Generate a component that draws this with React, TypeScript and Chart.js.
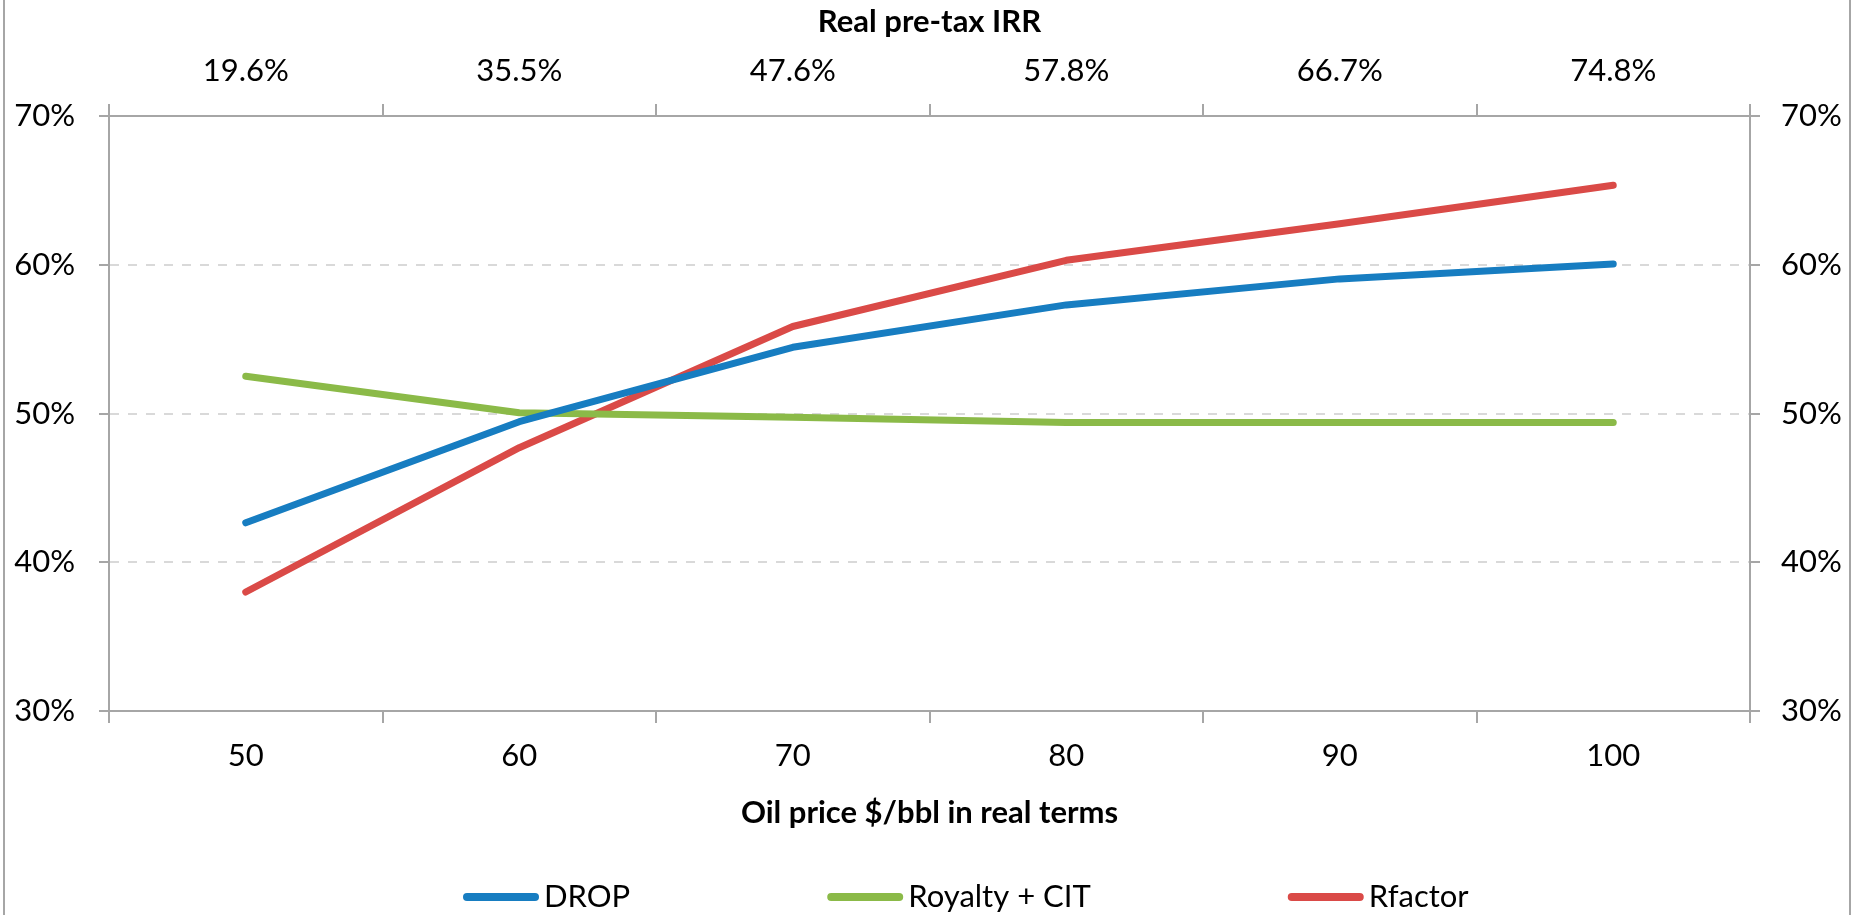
import React, { useEffect, useRef } from 'react';
import { Chart, registerables } from 'chart.js';

Chart.register(...registerables);

// ---- data ----
const categories = ['50', '60', '70', '80', '90', '100'];
const irrLabels = ['19.6%', '35.5%', '47.6%', '57.8%', '66.7%', '74.8%'];
const dropValues = [42.65, 49.45, 54.45, 57.3, 59.05, 60.05];
const royaltyValues = [52.5, 50.05, 49.75, 49.4, 49.4, 49.4];
const rfactorValues = [38.0, 47.7, 55.85, 60.3, 62.75, 65.35];
const seriesNames = ['DROP', 'Royalty + CIT', 'Rfactor'];
const seriesColors = ['#177DC1', '#8BBA48', '#DA4A47'];
const yMin = 30;
const yMax = 70;
const yStep = 10;
const xTitle = 'Oil price $/bbl in real terms';
const x2Title = 'Real pre-tax IRR';

const W = 1858;
const H = 915;
const FONT = 'Lato';
const AXIS = '#A6A6A6';
const GRID = '#D9D9D9';

const frameAndLegend = {
  id: 'frameAndLegend',
  afterDraw(chart: any) {
    const ctx = chart.ctx as CanvasRenderingContext2D;
    ctx.save();
    // outer chart frame (left & right edges visible)
    ctx.strokeStyle = AXIS;
    ctx.lineWidth = 2;
    ctx.beginPath();
    ctx.moveTo(4, 0);
    ctx.lineTo(4, H);
    ctx.moveTo(1850, 0);
    ctx.lineTo(1850, H);
    ctx.stroke();

    // legend
    ctx.font = `31px ${FONT}`;
    ctx.textBaseline = 'middle';
    ctx.textAlign = 'left';
    const lineLen = 76;
    const gap = 5;
    const spacing = 197;
    const y = 897;
    const items = chart.data.datasets.map((ds: any) => ({
      label: ds.label as string,
      color: ds.borderColor as string,
      w: ctx.measureText(ds.label).width,
    }));
    let x = 463;
    items.forEach((it: any) => {
      ctx.strokeStyle = it.color;
      ctx.lineWidth = 8;
      ctx.lineCap = 'round';
      ctx.beginPath();
      ctx.moveTo(x + 4, y);
      ctx.lineTo(x + lineLen - 4, y);
      ctx.stroke();
      ctx.fillStyle = '#000';
      ctx.fillText(it.label, x + lineLen + gap, y);
      x += lineLen + gap + it.w + spacing;
    });
    ctx.restore();
  },
};

export default function App() {
  const ref = useRef<HTMLCanvasElement | null>(null);

  useEffect(() => {
    if (!ref.current) return;
    const tickFont = { family: FONT, size: 31 };
    const titleFont = { family: FONT, size: 31, weight: 'bold' as const };
    const pct = (v: any) => `${v}%`;
    const series = [dropValues, royaltyValues, rfactorValues];

    const chart = new Chart(ref.current, {
      type: 'line',
      data: {
        labels: categories,
        datasets: series.map((vals, i) => ({
          label: seriesNames[i],
          data: vals,
          borderColor: seriesColors[i],
          backgroundColor: seriesColors[i],
          borderWidth: 7,
          pointRadius: 0,
          pointHoverRadius: 0,
          tension: 0,
          borderCapStyle: 'round' as const,
          borderJoinStyle: 'round' as const,
          xAxisID: 'x',
          yAxisID: 'y',
        })),
      },
      plugins: [frameAndLegend],
      options: {
        responsive: false,
        animation: false,
        devicePixelRatio: 1,
        layout: { padding: { left: 0, right: 0, top: 0, bottom: H - 711 - 130 } },
        plugins: {
          legend: { display: false },
          tooltip: { enabled: false },
          title: { display: false },
        },
        scales: {
          x: {
            type: 'category',
            position: 'bottom',
            offset: true,
            grid: {
              offset: true,
              drawOnChartArea: false,
              drawTicks: true,
              tickLength: 12,
              color: AXIS,
              lineWidth: 2,
            },
            border: { display: true, color: AXIS, width: 2 },
            ticks: { font: tickFont, color: '#000', padding: 14, maxRotation: 0, autoSkip: false },
            title: {
              display: true,
              text: xTitle,
              font: titleFont,
              color: '#000',
              padding: { top: 0, bottom: 9 },
            },
            afterFit: (s: any) => {
              s.height = 130;
            },
          },
          x2: {
            type: 'category',
            position: 'top',
            labels: irrLabels,
            offset: true,
            grid: {
              offset: true,
              drawOnChartArea: false,
              drawTicks: true,
              tickLength: 12,
              color: AXIS,
              lineWidth: 2,
            },
            border: { display: true, color: AXIS, width: 2 },
            ticks: { font: tickFont, color: '#000', padding: 14, maxRotation: 0, autoSkip: false },
            title: {
              display: true,
              text: x2Title,
              font: titleFont,
              color: '#000',
              padding: { top: 3, bottom: 0 },
            },
            afterFit: (s: any) => {
              s.height = 116;
            },
          },
          y: {
            type: 'linear',
            position: 'left',
            min: yMin,
            max: yMax,
            ticks: { stepSize: yStep, callback: pct, font: tickFont, color: '#000', padding: 24 },
            grid: {
              color: GRID,
              lineWidth: 2,
              drawTicks: true,
              tickLength: 10,
              tickColor: AXIS,
              tickWidth: 2,
            },
            border: { display: true, color: AXIS, width: 2, dash: [9, 9] },
            afterFit: (s: any) => {
              s.width = 109;
            },
          },
          y2: {
            type: 'linear',
            position: 'right',
            min: yMin,
            max: yMax,
            ticks: { stepSize: yStep, callback: pct, font: tickFont, color: '#000', padding: 21 },
            grid: {
              drawOnChartArea: false,
              drawTicks: true,
              tickLength: 10,
              color: AXIS,
              tickColor: AXIS,
              lineWidth: 2,
            },
            border: { display: true, color: AXIS, width: 2 },
            afterFit: (s: any) => {
              s.width = W - 1750;
            },
          },
        },
      },
    } as any);
    return () => chart.destroy();
  }, []);

  return (
    <div style={{ position: 'fixed', left: 0, top: 0, width: W, height: H, background: '#fff' }}>
      <canvas ref={ref} width={W} height={H} style={{ display: 'block', width: W, height: H }} />
    </div>
  );
}
